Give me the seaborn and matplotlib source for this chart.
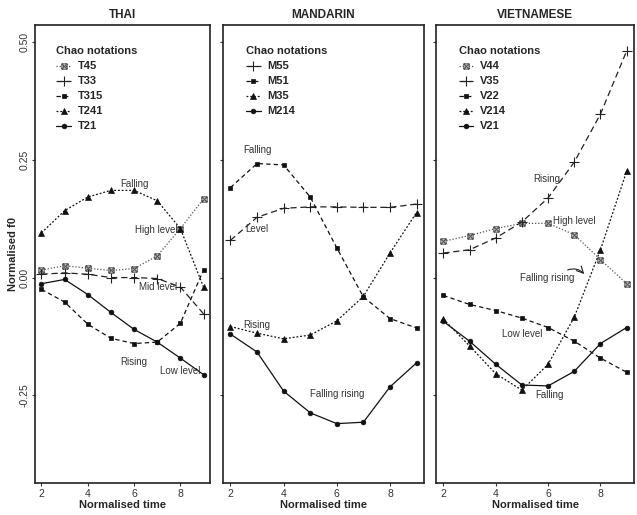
import matplotlib
matplotlib.use('Agg')
import matplotlib.pyplot as plt
import seaborn as sns
import pandas as pd
from matplotlib.path import Path

sns.set_theme(style='ticks')
plt.rcParams['font.family'] = ['Liberation Sans', 'DejaVu Sans']

time = [2, 3, 4, 5, 6, 7, 8, 9]

# Thai
thai_tones = ['T45', 'T33', 'T315', 'T241', 'T21']
t45 = [0.016, 0.025, 0.020, 0.015, 0.019, 0.046, 0.104, 0.167]
t33 = [0.007, 0.010, 0.007, 0.000, 0.000, -0.002, -0.020, -0.077]
t315 = [-0.025, -0.052, -0.099, -0.129, -0.140, -0.137, -0.097, 0.016]
t241 = [0.095, 0.142, 0.171, 0.185, 0.185, 0.163, 0.104, -0.020]
t21 = [-0.013, -0.004, -0.036, -0.074, -0.110, -0.137, -0.171, -0.206]
thai_labels = [('Falling', 6.0, 0.199), ('High level', 6.95, 0.100),
               ('Mid level', 7.05, -0.021), ('Rising', 6.0, -0.180),
               ('Low level', 8.0, -0.199)]

# Mandarin
mand_tones = ['M55', 'M51', 'M35', 'M214']
m55 = [0.079, 0.128, 0.147, 0.150, 0.150, 0.149, 0.149, 0.156]
m51 = [0.191, 0.242, 0.239, 0.171, 0.063, -0.041, -0.087, -0.107]
m35 = [-0.104, -0.118, -0.130, -0.122, -0.092, -0.040, 0.052, 0.138]
m214 = [-0.120, -0.158, -0.241, -0.287, -0.310, -0.307, -0.232, -0.181]
mand_labels = [('Falling', 3.0, 0.270), ('Level', 3.0, 0.102),
               ('Rising', 3.0, -0.100), ('Falling rising', 6.0, -0.248)]

# Vietnamese
viet_tones = ['V44', 'V35', 'V22', 'V214', 'V21']
v44 = [0.077, 0.089, 0.104, 0.115, 0.115, 0.091, 0.038, -0.013]
v35 = [0.052, 0.059, 0.084, 0.118, 0.169, 0.245, 0.347, 0.481]
v22 = [-0.038, -0.057, -0.070, -0.086, -0.106, -0.135, -0.171, -0.201]
v214 = [-0.088, -0.145, -0.204, -0.239, -0.184, -0.084, 0.059, 0.226]
v21 = [-0.093, -0.135, -0.184, -0.228, -0.230, -0.199, -0.140, -0.106]
viet_labels = [('Rising', 5.93, 0.210), ('High level', 7.0, 0.120),
               ('Falling rising', 5.97, 0.0), ('Low level', 5.0, -0.120),
               ('Falling', 6.05, -0.250)]

# square with a cross (R pch 7)
boxx = Path([(-1, -1), (1, -1), (1, 1), (-1, 1), (-1, -1),
             (-1, -1), (1, 1), (-1, 1), (1, -1)],
            [Path.MOVETO, Path.LINETO, Path.LINETO, Path.LINETO, Path.CLOSEPOLY,
             Path.MOVETO, Path.LINETO, Path.MOVETO, Path.LINETO])

looks = {
    'boxx': dict(marker=boxx, linestyle=(0, (1, 1.5)), markersize=3.8, markerfacecolor='none',
                 color='#555555', markeredgecolor='#555555', markeredgewidth=0.8),
    'plus': dict(marker='+', linestyle=(0, (5, 3)), markersize=6.5, color='#222222',
                 markeredgecolor='#222222', markeredgewidth=0.8),
    'square': dict(marker='s', linestyle=(0, (3.5, 2.5)), markersize=3.3, color='#111111',
                   markeredgecolor='#111111', markeredgewidth=0.5),
    'tri': dict(marker='^', linestyle=(0, (1.5, 1.5)), markersize=4, color='#111111',
                markeredgecolor='#111111', markeredgewidth=0.5),
    'circle': dict(marker='o', linestyle='-', markersize=3.4, color='#111111',
                   markeredgecolor='#111111', markeredgewidth=0.5),
}

panels = [
    ('THAI', thai_tones, [t45, t33, t315, t241, t21],
     ['boxx', 'plus', 'square', 'tri', 'circle'], thai_labels, [35, 175]),
    ('MANDARIN', mand_tones, [m55, m51, m35, m214],
     ['plus', 'square', 'tri', 'circle'], mand_labels, [223, 201]),
    ('VIETNAMESE', viet_tones, [v44, v35, v22, v214, v21],
     ['boxx', 'plus', 'square', 'tri', 'circle'], viet_labels, [436, 198]),
]

fig = plt.figure(figsize=(6.37, 5.15), dpi=100)

for i, (title, tones, series, kinds, labels, (left, width)) in enumerate(panels):
    ax = fig.add_axes([left / 637, 32 / 515, width / 637, 458 / 515])
    for tone, vals, kind in zip(tones, series, kinds):
        df = pd.DataFrame({'time': time, 'f0': vals})
        sns.lineplot(data=df, x='time', y='f0', ax=ax, label=tone, linewidth=0.9,
                     estimator=None, **looks[kind])
    for txt, x, y in labels:
        ax.text(x, y, txt, ha='center', va='center', fontsize=7, color='#333333')
    if title == 'VIETNAMESE':
        ax.annotate('', xy=(7.45, 0.003), xytext=(6.65, 0.014),
                    arrowprops=dict(arrowstyle='->', color='#222222', lw=0.8,
                                    connectionstyle='arc3,rad=-0.4'))
    ax.set_xlim(1.72, 9.28)
    ax.set_ylim(-0.436, 0.536)
    ax.set_xticks([2, 4, 6, 8])
    ax.set_yticks([-0.25, 0.0, 0.25, 0.5])
    ax.tick_params(axis='both', direction='out', length=2.5, width=0.8, pad=1.5,
                   labelsize=7.5, colors='#333333')
    if i == 0:
        ax.set_yticklabels(['-0.25', '0.00', '0.25', '0.50'], rotation=90, va='center')
        ax.set_ylabel('Normalised f0', fontsize=8, fontweight='bold', labelpad=1)
    else:
        ax.set_yticklabels([])
        ax.set_ylabel('')
    ax.set_xlabel('Normalised time', fontsize=8, fontweight='bold', labelpad=1)
    ax.set_title(title, fontsize=8.5, fontweight='bold', pad=5)
    for s in ax.spines.values():
        s.set_visible(True)
        s.set_linewidth(1.2)
        s.set_color('#222222')
    ax.legend(title='Chao notations', loc='upper left', bbox_to_anchor=(0.065, 0.975),
              frameon=False, prop={'weight': 'bold', 'size': 8}, handlelength=1.3,
              handletextpad=0.6, labelspacing=0.45, alignment='left',
              title_fontproperties={'weight': 'bold', 'size': 8})

fig.savefig('out.png', dpi=100)
